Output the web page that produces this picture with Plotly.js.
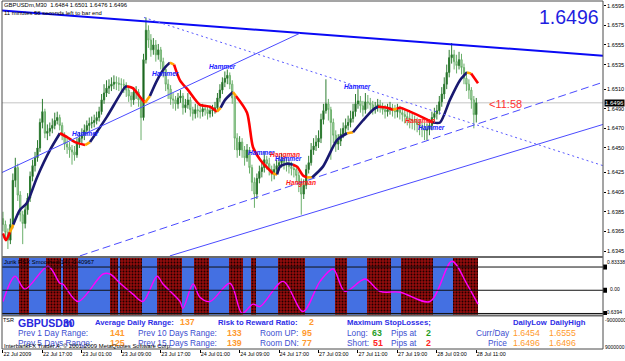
<!DOCTYPE html>
<html><head><meta charset="utf-8">
<script src="https://cdn.plot.ly/plotly-3.0.1.min.js"></script>
<style>html,body{margin:0;padding:0;background:#fff;}#chart{width:625px;height:361px;}</style>
</head><body><div id="chart"></div>
<script>
// ================= DATA =================
const timeLabels = ['22 Jul 2009','22 Jul 17:00','23 Jul 01:00','23 Jul 09:00','23 Jul 17:00','24 Jul 01:00','24 Jul 09:00','24 Jul 17:00','27 Jul 03:00','27 Jul 11:00','27 Jul 19:00','28 Jul 03:00','28 Jul 11:00'];
const timeLabelBars = [0,16,32,48,64,80,96,112,128,144,160,176,192];
const priceTicks = [1.6595,1.6575,1.6555,1.6535,1.6510,1.6490,1.6470,1.6450,1.6425,1.6405,1.6385,1.6365,1.6345];

// prices in pips (1.6372 -> 6372 after the leading 1.)
const firstOpen = 6378;
const closePips = [6372,6364,6356,6372,6417,6430,6402,6382,6373,6387,
 6399,6421,6432,6440,6450,6476,6487,6465,6467,6470,
 6473,6478,6481,6473,6463,6454,6451,6448,6446,6443,
 6456,6460,6463,6468,6473,6475,6476,6478,6481,6487,
 6499,6506,6511,6513,6515,6517,6516,6515,6515,6514,
 6509,6503,6499,6507,6507,6499,6481,6540,6570,6560,
 6550,6555,6545,6550,6538,6530,6515,6510,6500,6499,
 6495,6501,6503,6491,6494,6499,6489,6485,6489,6488,
 6487,6490,6489,6485,6488,6489,6491,6501,6509,6517,
 6521,6524,6515,6501,6460,6448,6456,6448,6440,6448,
 6430,6415,6403,6419,6426,6430,6438,6434,6428,6423,
 6428,6432,6435,6438,6435,6433,6431,6429,6428,6422,
 6415,6403,6412,6428,6435,6448,6452,6456,6460,6479,
 6488,6495,6489,6476,6463,6454,6457,6464,6470,6473,
 6476,6480,6487,6495,6498,6493,6489,6497,6496,6494,
 6490,6491,6494,6491,6489,6487,6489,6491,6488,6487,
 6489,6486,6484,6482,6480,6479,6478,6476,6474,6472,
 6470,6468,6469,6473,6481,6485,6488,6497,6505,6515,
 6527,6542,6545,6538,6534,6540,6532,6521,6515,6509,
 6499,6484,6496];
const highPips = [6385,6376,6368,6378,6424,6440,6434,6406,6386,6392,
 6404,6426,6438,6446,6458,6480,6500,6490,6474,6476,
 6480,6486,6487,6484,6476,6466,6460,6456,6453,6452,
 6460,6466,6470,6474,6478,6481,6482,6484,6487,6492,
 6505,6515,6519,6520,6522,6524,6523,6522,6521,6520,
 6517,6512,6507,6512,6513,6510,6502,6546,6583,6575,
 6566,6562,6560,6556,6553,6542,6534,6520,6514,6506,
 6503,6506,6509,6506,6500,6506,6502,6492,6495,6494,
 6493,6495,6494,6492,6493,6494,6497,6506,6515,6522,
 6528,6530,6527,6519,6504,6465,6462,6460,6452,6454,
 6451,6433,6420,6424,6432,6437,6446,6442,6440,6432,
 6434,6438,6442,6445,6442,6440,6438,6436,6434,6432,
 6426,6419,6418,6433,6442,6455,6460,6463,6468,6485,
 6495,6520,6500,6492,6480,6468,6464,6470,6476,6480,
 6483,6488,6495,6505,6510,6503,6498,6506,6504,6501,
 6498,6497,6500,6499,6496,6494,6495,6497,6495,6494,
 6495,6493,6491,6489,6487,6486,6485,6483,6481,6479,
 6477,6476,6475,6479,6487,6491,6494,6503,6512,6522,
 6535,6550,6557,6550,6545,6548,6546,6536,6528,6520,
 6512,6503,6501];
const lowPips = [6365,6358,6347,6352,6368,6410,6396,6375,6352,6368,
 6382,6395,6416,6426,6436,6446,6470,6460,6458,6462,
 6465,6469,6474,6468,6458,6448,6444,6440,6433,6437,
 6440,6450,6454,6458,6464,6467,6470,6471,6474,6477,
 6484,6495,6502,6505,6508,6510,6509,6508,6507,6506,
 6502,6497,6492,6494,6500,6492,6458,6478,6536,6552,
 6543,6545,6538,6540,6530,6522,6508,6500,6494,6490,
 6488,6490,6496,6484,6486,6490,6482,6478,6480,6481,
 6480,6482,6483,6479,6481,6482,6485,6488,6497,6505,
 6512,6515,6510,6495,6448,6440,6442,6440,6432,6436,
 6424,6406,6389,6398,6414,6420,6425,6428,6422,6416,
 6418,6423,6427,6430,6428,6426,6424,6422,6420,6415,
 6405,6382,6398,6408,6424,6432,6443,6447,6450,6455,
 6474,6485,6478,6438,6455,6446,6448,6452,6460,6465,
 6468,6471,6476,6482,6490,6486,6482,6485,6490,6487,
 6484,6485,6487,6486,6484,6480,6482,6484,6482,6480,
 6481,6479,6477,6475,6473,6470,6469,6468,6466,6463,
 6461,6458,6458,6463,6468,6476,6479,6484,6492,6500,
 6510,6522,6536,6530,6526,6530,6525,6515,6508,6500,
 6490,6470,6476];

// moving average (read points): bar position, value, state (R falling, D rising, O turn)
const maBar = [0,1.2,2.8,4.2,6.9,9.7,13.8,19.1,23.1,26,29.2,33.3,35.3,42.2,49.5,50.3,52.7,55.6,57.6,59.6,62.5,65.7,67.7,69.4,71.8,75.1,79.9,84,86.8,88.3,90.1,93.3,94.5,99,101.4,104.3,109.5,111.2,112.4,115.2,117.6,119.3,121.7,123.3,125.4,129.8,135.5,139.6,142,146,150.1,152.1,155.8,158.2,159.8,161.1,165.1,170.4,174.4,177.3,181.3,185.4,188.2,189.9,192.7];
const maPips = [6363,6356,6364,6372,6387,6394,6420,6448,6465,6461,6456,6453,6456,6482,6512,6513,6511,6502,6496,6503,6519,6532,6537,6535,6519,6509,6494,6492,6487,6491,6499,6507,6503,6486,6451,6438,6424,6423,6431,6434,6433,6431,6422,6420,6420,6431,6458,6465,6466,6478,6489,6492,6491,6489,6490,6491,6487,6481,6476,6476,6499,6519,6527,6526,6516];
const maState = ['R','R','O','D','D','D','D','D','R','R','R','O','D','D','D','R','R','R','O','D','D','D','O','R','R','R','R','R','O','D','D','O','R','R','R','R','O','D','D','D','R','R','R','O','D','D','D','O','D','D','D','R','R','O','R','R','R','R','D','D','D','D','O','R','R'];

// trend lines: [bar, pips] endpoints
const trendTopBars = [-0.4, 243.4], trendTopPips = [6590, 6544];
const trendUpBars = [-0.4, 120.5], trendUpPips = [6425, 6567];
const trendLowBars = [67.7, 243.4], trendLowPips = [6340, 6474];
const trendDashBars = [31.2, 243.4], trendDashPips = [6340, 6517];
const trendDotBars = [57.2, 243.4], trendDotPips = [6583, 6432];

// candle pattern labels
const patternText = ['Hammer','Hammer','Hammer','Hammer','Hangman','Hammer','Hangman','Hammer','Hangman','Hammer'];
const patternBar = [33.3,66.1,89.2,105,114.4,116,121,144,169.2,174];
const patternPips = [6465,6526,6533,6445,6443,6439,6414,6513,6478,6471];

// Jurik RSX indicator
const rsxBar = [0,4.9,8.9,18.3,23.1,24.3,30.4,40.6,43.4,47.5,52.7,56.8,62.5,64.9,71.8,73,77.1,79.9,84,92.1,97,101.4,104.3,113.6,121.7,128.6,133.9,138.7,146.9,152.9,161.1,173.2,182.1,188.2,192.7];
const rsxVal = [-0.29,0.36,0.03,0.62,0.18,0.16,-0.29,0.42,0.42,0.18,-0.10,-0.29,0.36,0.16,-0.29,-0.47,0.16,-0.18,-0.29,0.18,-0.60,-0.36,-0.42,0.23,-0.55,0.23,0.55,-0.03,0.29,-0.03,-0.05,-0.29,0.75,0.16,-0.36];
const rsxRange = [-0.63946, 0.83338];
const rsxLevels = [0.6, 0, -0.6];
const bandStart = [0,7,11,18,24,25,31,44,47,48,57,63,73,78,84,92,98,101,103,112,123,135,140,148,158,162,175,183];
const bandKind  = ['B','R','B','R','B','R','B','R','B','R','B','R','B','R','B','R','B','R','B','R','B','R','B','R','B','R','B','R'];

// ================= BUILD =================
const toPrice = v => 1 + v / 10000;
const nBars = closePips.length;
const barIdx = closePips.map((_, i) => i);
const openPips = closePips.map((c, i) => i === 0 ? firstOpen : closePips[i - 1]);
const lastClose = toPrice(closePips[nBars - 1]);
const SANS = '"Liberation Sans", Arial, sans-serif';

const data = [];
data.push({type:'candlestick', x:barIdx, open:openPips.map(toPrice), high:highPips.map(toPrice),
  low:lowPips.map(toPrice), close:closePips.map(toPrice), xaxis:'x', yaxis:'y',
  increasing:{line:{color:'#2E7D32', width:1}, fillcolor:'#0A3D0A'},
  decreasing:{line:{color:'#6AAF6A', width:1}, fillcolor:'#C8E6C8'},
  whiskerwidth:0, hoverinfo:'skip', showlegend:false});

// MA runs coloured by state
const maColors = {R:'#FF0000', D:'#191970', O:'#FFA500'};
let k = 0;
while (k < maBar.length - 1) {
  const st = maState[k];
  let j = k;
  while (j + 1 < maBar.length - 1 && maState[j + 1] === st) j++;
  data.push({type:'scatter', mode:'lines', x:maBar.slice(k, j + 2), y:maPips.slice(k, j + 2).map(toPrice),
    xaxis:'x', yaxis:'y', line:{color:maColors[st], width:2.6, shape:'spline', smoothing:0.7},
    hoverinfo:'skip', showlegend:false});
  k = j + 1;
}

// trend lines
function tl(bx, pp, color, width, dash) {
  return {type:'scatter', mode:'lines', x:bx, y:pp.map(toPrice), xaxis:'x', yaxis:'y',
    line:{color, width, dash}, hoverinfo:'skip', showlegend:false, cliponaxis:true};
}
data.push(tl(trendTopBars, trendTopPips, '#0A0AF5', 2, 'solid'));
data.push(tl(trendUpBars, trendUpPips, '#4B4BFF', 1, 'solid'));
data.push(tl(trendLowBars, trendLowPips, '#4B4BFF', 1, 'solid'));
data.push(tl(trendDashBars, trendDashPips, '#4B4BFF', 1, '8px,4px'));
data.push(tl(trendDotBars, trendDotPips, '#5A5AFF', 1, '2px,3px'));

// RSX bands
const bandOf = i => { let b = 0; for (let q = 0; q < bandStart.length; q++) if (bandStart[q] <= i) b = q; return bandKind[b]; };
const blueX = barIdx.filter(i => bandOf(i) === 'B');
const redX = barIdx.filter(i => bandOf(i) === 'R');
const span = rsxRange[1] - rsxRange[0];
data.push({type:'bar', x:blueX, y:blueX.map(() => span), base:rsxRange[0], width:1, xaxis:'x', yaxis:'y2',
  marker:{color:'#4470E2', line:{width:0}}, hoverinfo:'skip', showlegend:false});
data.push({type:'bar', x:redX, y:redX.map(() => span), base:rsxRange[0], width:1, xaxis:'x', yaxis:'y2',
  marker:{color:'#8E0A0A', line:{width:0}, pattern:{shape:'.', fgcolor:'#1E0000', bgcolor:'#930C0C', size:3, solidity:0.3}},
  hoverinfo:'skip', showlegend:false});
data.push({type:'scatter', mode:'lines', x:rsxBar, y:rsxVal, xaxis:'x', yaxis:'y2',
  line:{color:'#FF00FF', width:1.4, shape:'spline', smoothing:0.9}, hoverinfo:'skip', showlegend:false});
data.push({type:'scatter', mode:'none', x:[0], y:[0], xaxis:'x', yaxis:'y3', hoverinfo:'skip', showlegend:false});

// ================= LAYOUT =================
const W = 625, H = 361, ML = 2, MR = 22, MT = 1, MB = 12;
const PW = W - ML - MR, PH = H - MT - MB;
const pxX = x => (x - ML) / PW;
const pxY = y => (H - MB - y) / PH;
function txt(t, x, y, size, color, o = {}) {
  return {xref:'paper', yref:'paper', x:pxX(x), y:pxY(y), xanchor:o.xa || 'left', yanchor:'middle',
    text:t, showarrow:false, borderpad:0,
    font:{family:SANS, size, color, weight:o.bold ? 'bold' : 'normal', style:o.italic ? 'italic' : 'normal'},
    bgcolor:o.bg};
}

const ann = [];
ann.push(txt('GBPUSDm,M30  1.6484 1.6501 1.6476 1.6496', 3, 5, 5.9, '#000'));
ann.push(txt('11 minutes 58 seconds left to bar end', 3, 13, 5.9, '#000'));
ann.push(txt('1.6496', 569, 17, 19.5, '#1E1EE0', {xa:'center'}));
ann.push(txt('&lt;11:58', 488, 104, 11, '#FF3030'));
patternText.forEach((t, i) => ann.push({xref:'x', yref:'y', x:patternBar[i], y:toPrice(patternPips[i]),
  text:t, showarrow:false, xanchor:'center', yanchor:'middle', borderpad:0,
  font:{family:SANS, size:6.6, color:t === 'Hammer' ? '#2020FF' : '#FF1A1A', weight:'bold', style:'italic'}}));
// current price marker on axis
ann.push({xref:'paper', yref:'y', x:1, xshift:1, y:lastClose, xanchor:'left', yanchor:'middle', text:'1.6496',
  showarrow:false, bgcolor:'#000', borderpad:0, font:{family:SANS, size:6, color:'#fff'}});
// indicator window
ann.push(txt('Jurik RSX Smoothed(14) -0.40967', 3, 262, 5.9, '#000'));
ann.push(txt('0.83338', 606, 262, 5, '#000'));
ann.push(txt('0.00', 609, 289, 5, '#000'));
ann.push(txt('-0.6394', 604, 312, 5, '#000'));
ann.push(txt('-9000000', 604, 320, 5, '#000'));
ann.push(txt('9000000', 604, 347, 5, '#000'));
// info window
const BL = '#2E2EE6', BR = '#3D4FD0', OR = '#FF9A2E', GR = '#1F9E1F', RD = '#FF2222';
ann.push(txt('TSR', 2, 320, 5.5, '#000'));
ann.push(txt('GBPUSDm', 17, 323, 10.5, '#2828DD', {bold:true}));
ann.push(txt('30', 62, 323, 10.5, '#2828DD', {bold:true}));
ann.push(txt('Average Daily Range:', 94, 322, 7.7, BL, {bold:true}));
ann.push(txt('137', 179, 322, 8.8, OR, {bold:true}));
ann.push(txt('Risk to Reward Ratio:', 217, 322, 7.7, BL, {bold:true}));
ann.push(txt('2', 308, 322, 8.8, OR, {bold:true}));
ann.push(txt('Maximum StopLosses;', 346, 322, 7.7, BL, {bold:true}));
ann.push(txt('DailyLow', 512, 322, 7.7, BL, {bold:true}));
ann.push(txt('DailyHigh', 549, 322, 7.7, BL, {bold:true}));
ann.push(txt('Prev 1 Day Range:', 17, 333, 8.3, BR));
ann.push(txt('141', 109, 333, 8.8, OR, {bold:true}));
ann.push(txt('Prev 10 Days Range:', 137, 333, 8.3, BR));
ann.push(txt('133', 226, 333, 8.8, OR, {bold:true}));
ann.push(txt('Room UP:', 259, 333, 8.3, BR));
ann.push(txt('95', 301, 333, 8.8, OR, {bold:true}));
ann.push(txt('Long:', 346, 333, 8.3, BR));
ann.push(txt('63', 371, 333, 8.8, GR, {bold:true}));
ann.push(txt('Pips at', 390, 333, 8.3, BR));
ann.push(txt('2', 425, 333, 8.8, GR, {bold:true}));
ann.push(txt('Curr/Day', 475, 333, 8.3, BR));
ann.push(txt('1.6454', 512, 333, 8.8, OR));
ann.push(txt('1.6555', 548, 333, 8.8, OR));
ann.push(txt('Prev 5 Days Range:', 17, 343, 8.3, BR));
ann.push(txt('125', 109, 343, 8.8, OR, {bold:true}));
ann.push(txt('Prev 15 Days Range:', 137, 343, 8.3, BR));
ann.push(txt('139', 226, 343, 8.8, OR, {bold:true}));
ann.push(txt('Room DN:', 259, 343, 8.3, BR));
ann.push(txt('77', 301, 343, 8.8, OR, {bold:true}));
ann.push(txt('Short:', 346, 343, 8.3, BR));
ann.push(txt('51', 372, 343, 8.8, RD, {bold:true}));
ann.push(txt('Pips at', 390, 343, 8.3, BR));
ann.push(txt('2', 425, 343, 8.8, RD, {bold:true}));
ann.push(txt('Price', 487, 343, 8.3, BR));
ann.push(txt('1.6496', 512, 343, 8.8, OR));
ann.push(txt('1.6496', 548, 343, 8.8, OR));
ann.push(txt('InterbankFX Trader 4, © 2001-2009 MetaQuotes Software Corp.', 3, 346, 5.9, '#000'));

const FR = '#4A4A4A';
const shapes = [
  {type:'line', xref:'paper', yref:'y', x0:0, x1:1, y0:lastClose, y1:lastClose, line:{color:'#C4C4C4', width:1}, layer:'below'},
  ...rsxLevels.map(v => ({type:'line', xref:'paper', yref:'y2', x0:0, x1:1, y0:v, y1:v, line:{color:'#111', width:1}})),
  ...rsxLevels.map(v => ({type:'line', xref:'paper', yref:'y2', x0:pxX(603), x1:pxX(607), y0:v, y1:v, line:{color:'#000', width:5}})),
  {type:'line', xref:'paper', yref:'paper', x0:0, x1:0, y0:0, y1:1, line:{color:FR, width:1}},
  {type:'line', xref:'paper', yref:'paper', x0:1, x1:1, y0:0, y1:1, line:{color:FR, width:1}},
  {type:'line', xref:'paper', yref:'paper', x0:0, x1:1, y0:1, y1:1, line:{color:FR, width:1}},
  {type:'line', xref:'paper', yref:'paper', x0:0, x1:1, y0:pxY(257), y1:pxY(257), line:{color:'#6A6A6A', width:2}},
  {type:'line', xref:'paper', yref:'paper', x0:0, x1:1, y0:pxY(315.5), y1:pxY(315.5), line:{color:'#6A6A6A', width:2}},
  {type:'line', xref:'paper', yref:'paper', x0:0, x1:1, y0:0, y1:0, line:{color:FR, width:1}}
];

const layout = {
  width:W, height:H, margin:{l:ML, r:MR, t:MT, b:MB},
  paper_bgcolor:'#fff', plot_bgcolor:'#fff', showlegend:false,
  barmode:'overlay', bargap:0,
  font:{family:SANS, size:6, color:'#000'},
  xaxis:{range:[-0.4, 243.4], autorange:false, anchor:'y3', tickmode:'array', tickvals:timeLabelBars, ticktext:timeLabels,
    ticks:'outside', ticklen:3, tickcolor:'#000', tickangle:0, tickfont:{size:5.4, family:SANS}, ticklabelposition:'outside right',
    showgrid:false, zeroline:false, showline:false, rangeslider:{visible:false}, fixedrange:true},
  yaxis:{domain:[pxY(256), 1], range:[1.63399, 1.65998], autorange:false, side:'right', anchor:'x', tickmode:'array',
    tickvals:priceTicks, ticktext:priceTicks.map(v => v.toFixed(4)), ticks:'outside', ticklen:2, tickcolor:'#000',
    tickfont:{size:5.6, family:SANS}, showgrid:false, zeroline:false, fixedrange:true},
  yaxis2:{domain:[pxY(315), pxY(258)], range:rsxRange, autorange:false, side:'right', anchor:'x', showticklabels:false,
    ticks:'', showgrid:false, zeroline:false, fixedrange:true},
  yaxis3:{domain:[0, pxY(316)], range:[-1, 1], autorange:false, side:'right', anchor:'x', showticklabels:false,
    ticks:'', showgrid:false, zeroline:false, fixedrange:true},
  shapes, annotations:ann
};

Plotly.newPlot('chart', data, layout, {staticPlot:true, displayModeBar:false});
</script></body></html>
